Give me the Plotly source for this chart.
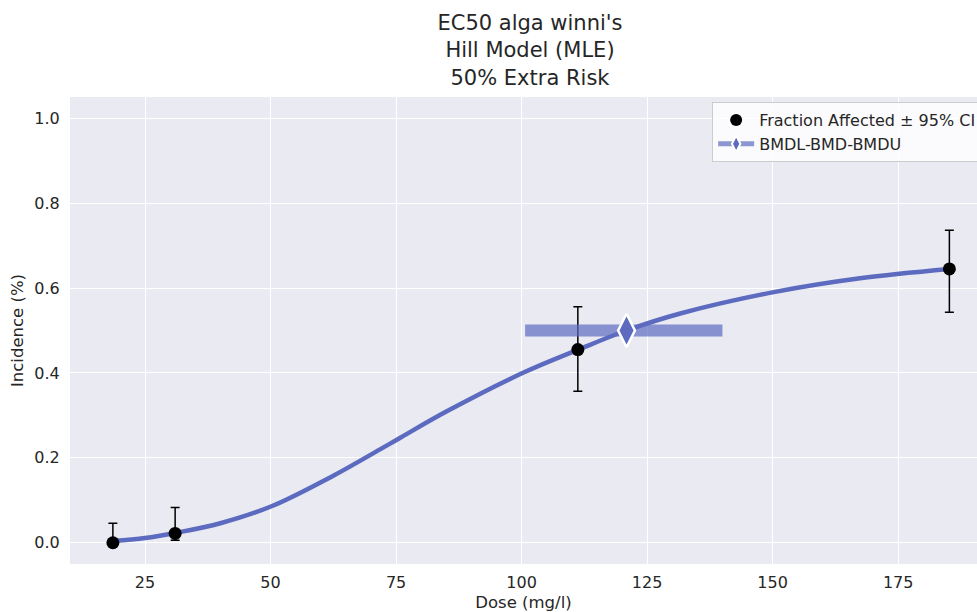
import plotly.graph_objects as go

# ---- data ----
dose = [18.6, 31.0, 111.2, 185.2]
frac_affected = [0.0, 0.022, 0.455, 0.645]
ci_upper = [0.046, 0.083, 0.556, 0.736]
ci_lower = [0.0, 0.006, 0.357, 0.543]

curve_dose = [18.6, 25.0, 31.2, 40.0, 50.2, 62.5, 71.8, 75.5, 85.0, 100.4,
              111.3, 120.9, 131.6, 150.5, 167.4, 185.2]
curve_resp = [0.004, 0.011, 0.0235, 0.046, 0.086, 0.158, 0.220, 0.245, 0.309, 0.401,
              0.455, 0.500, 0.540, 0.591, 0.623, 0.645]

bmdl = 100.7
bmd = 120.9
bmdu = 140.0
bmr_level = 0.5

x_ticks = [25, 50, 75, 100, 125, 150, 175]
y_ticks = [0.0, 0.2, 0.4, 0.6, 0.8, 1.0]

title_lines = ["EC50 alga winni's", "Hill Model (MLE)", "50% Extra Risk"]

# ---- styling ----
FONT = "DejaVu Sans"
TXT = "#262626"
BLUE = "#5c6bc0"
BAR = "rgba(92,107,192,0.7)"
BG = "#EAEAF2"

fig = go.Figure()

# fitted Hill curve
fig.add_trace(go.Scatter(
    x=curve_dose, y=curve_resp, mode="lines",
    line=dict(color=BLUE, width=4.5, shape="spline", smoothing=1.0),
    showlegend=False, hoverinfo="skip",
))

# observed fractions with 95% CI
err_plus = [u - v for u, v in zip(ci_upper, frac_affected)]
err_minus = [v - l for v, l in zip(frac_affected, ci_lower)]
fig.add_trace(go.Scatter(
    x=dose, y=frac_affected, mode="markers",
    name="Fraction Affected \u00b1 95% CI",
    marker=dict(color="black", size=13, symbol="circle"),
    error_y=dict(type="data", symmetric=False, array=err_plus, arrayminus=err_minus,
                 color="black", thickness=1.5, width=4.5),
))

# BMDL-BMD-BMDU bar with BMD diamond (BMD first so the legend picks the diamond)
fig.add_trace(go.Scatter(
    x=[bmd, bmdl, bmdu], y=[bmr_level, bmr_level, bmr_level],
    mode="lines+markers", name="BMDL-BMD-BMDU",
    line=dict(color=BAR, width=12),
    marker=dict(symbol=["diamond-tall", "circle", "circle"],
                size=24,
                color=[BLUE, "rgba(0,0,0,0)", "rgba(0,0,0,0)"],
                line=dict(color=["white", "rgba(0,0,0,0)", "rgba(0,0,0,0)"], width=2.5)),
))

fig.update_layout(
    width=977, height=612,
    paper_bgcolor="white", plot_bgcolor=BG,
    margin=dict(l=70, r=0, t=97, b=48, autoexpand=False),
    font=dict(family=FONT, color=TXT, size=16),
    title=dict(text="<br>".join(title_lines), x=530 / 977, xref="container", xanchor="center",
               y=1 - 30 / 612, yref="container", yanchor="top",
               font=dict(family=FONT, size=21, color=TXT)),
    legend=dict(x=0.708, y=0.989, xanchor="left", yanchor="top",
                bgcolor="rgba(255,255,255,0.8)", bordercolor="#cccccc", borderwidth=1,
                font=dict(family=FONT, size=16, color=TXT), itemsizing="constant",
                itemwidth=36, tracegroupgap=0),
    xaxis=dict(range=[10.06, 190.7], tickvals=x_ticks, showgrid=True, gridcolor="white",
               gridwidth=1.3, zeroline=False, showline=False,
               ticks="outside", ticklen=4, tickcolor="rgba(0,0,0,0)",
               tickfont=dict(family=FONT, size=16, color=TXT),
               title=dict(text="Dose (mg/l)", font=dict(family=FONT, size=16.5, color=TXT),
                          standoff=6)),
    yaxis=dict(range=[-0.05, 1.05], tickvals=y_ticks, tickformat=".1f", showgrid=True,
               gridcolor="white", gridwidth=1.3, zeroline=False, showline=False,
               ticks="outside", ticklen=6, tickcolor="rgba(0,0,0,0)",
               tickfont=dict(family=FONT, size=16, color=TXT),
               title=dict(text="Incidence (%)", font=dict(family=FONT, size=16.5, color=TXT),
                          standoff=6)),
)

fig.write_html("out.html")
